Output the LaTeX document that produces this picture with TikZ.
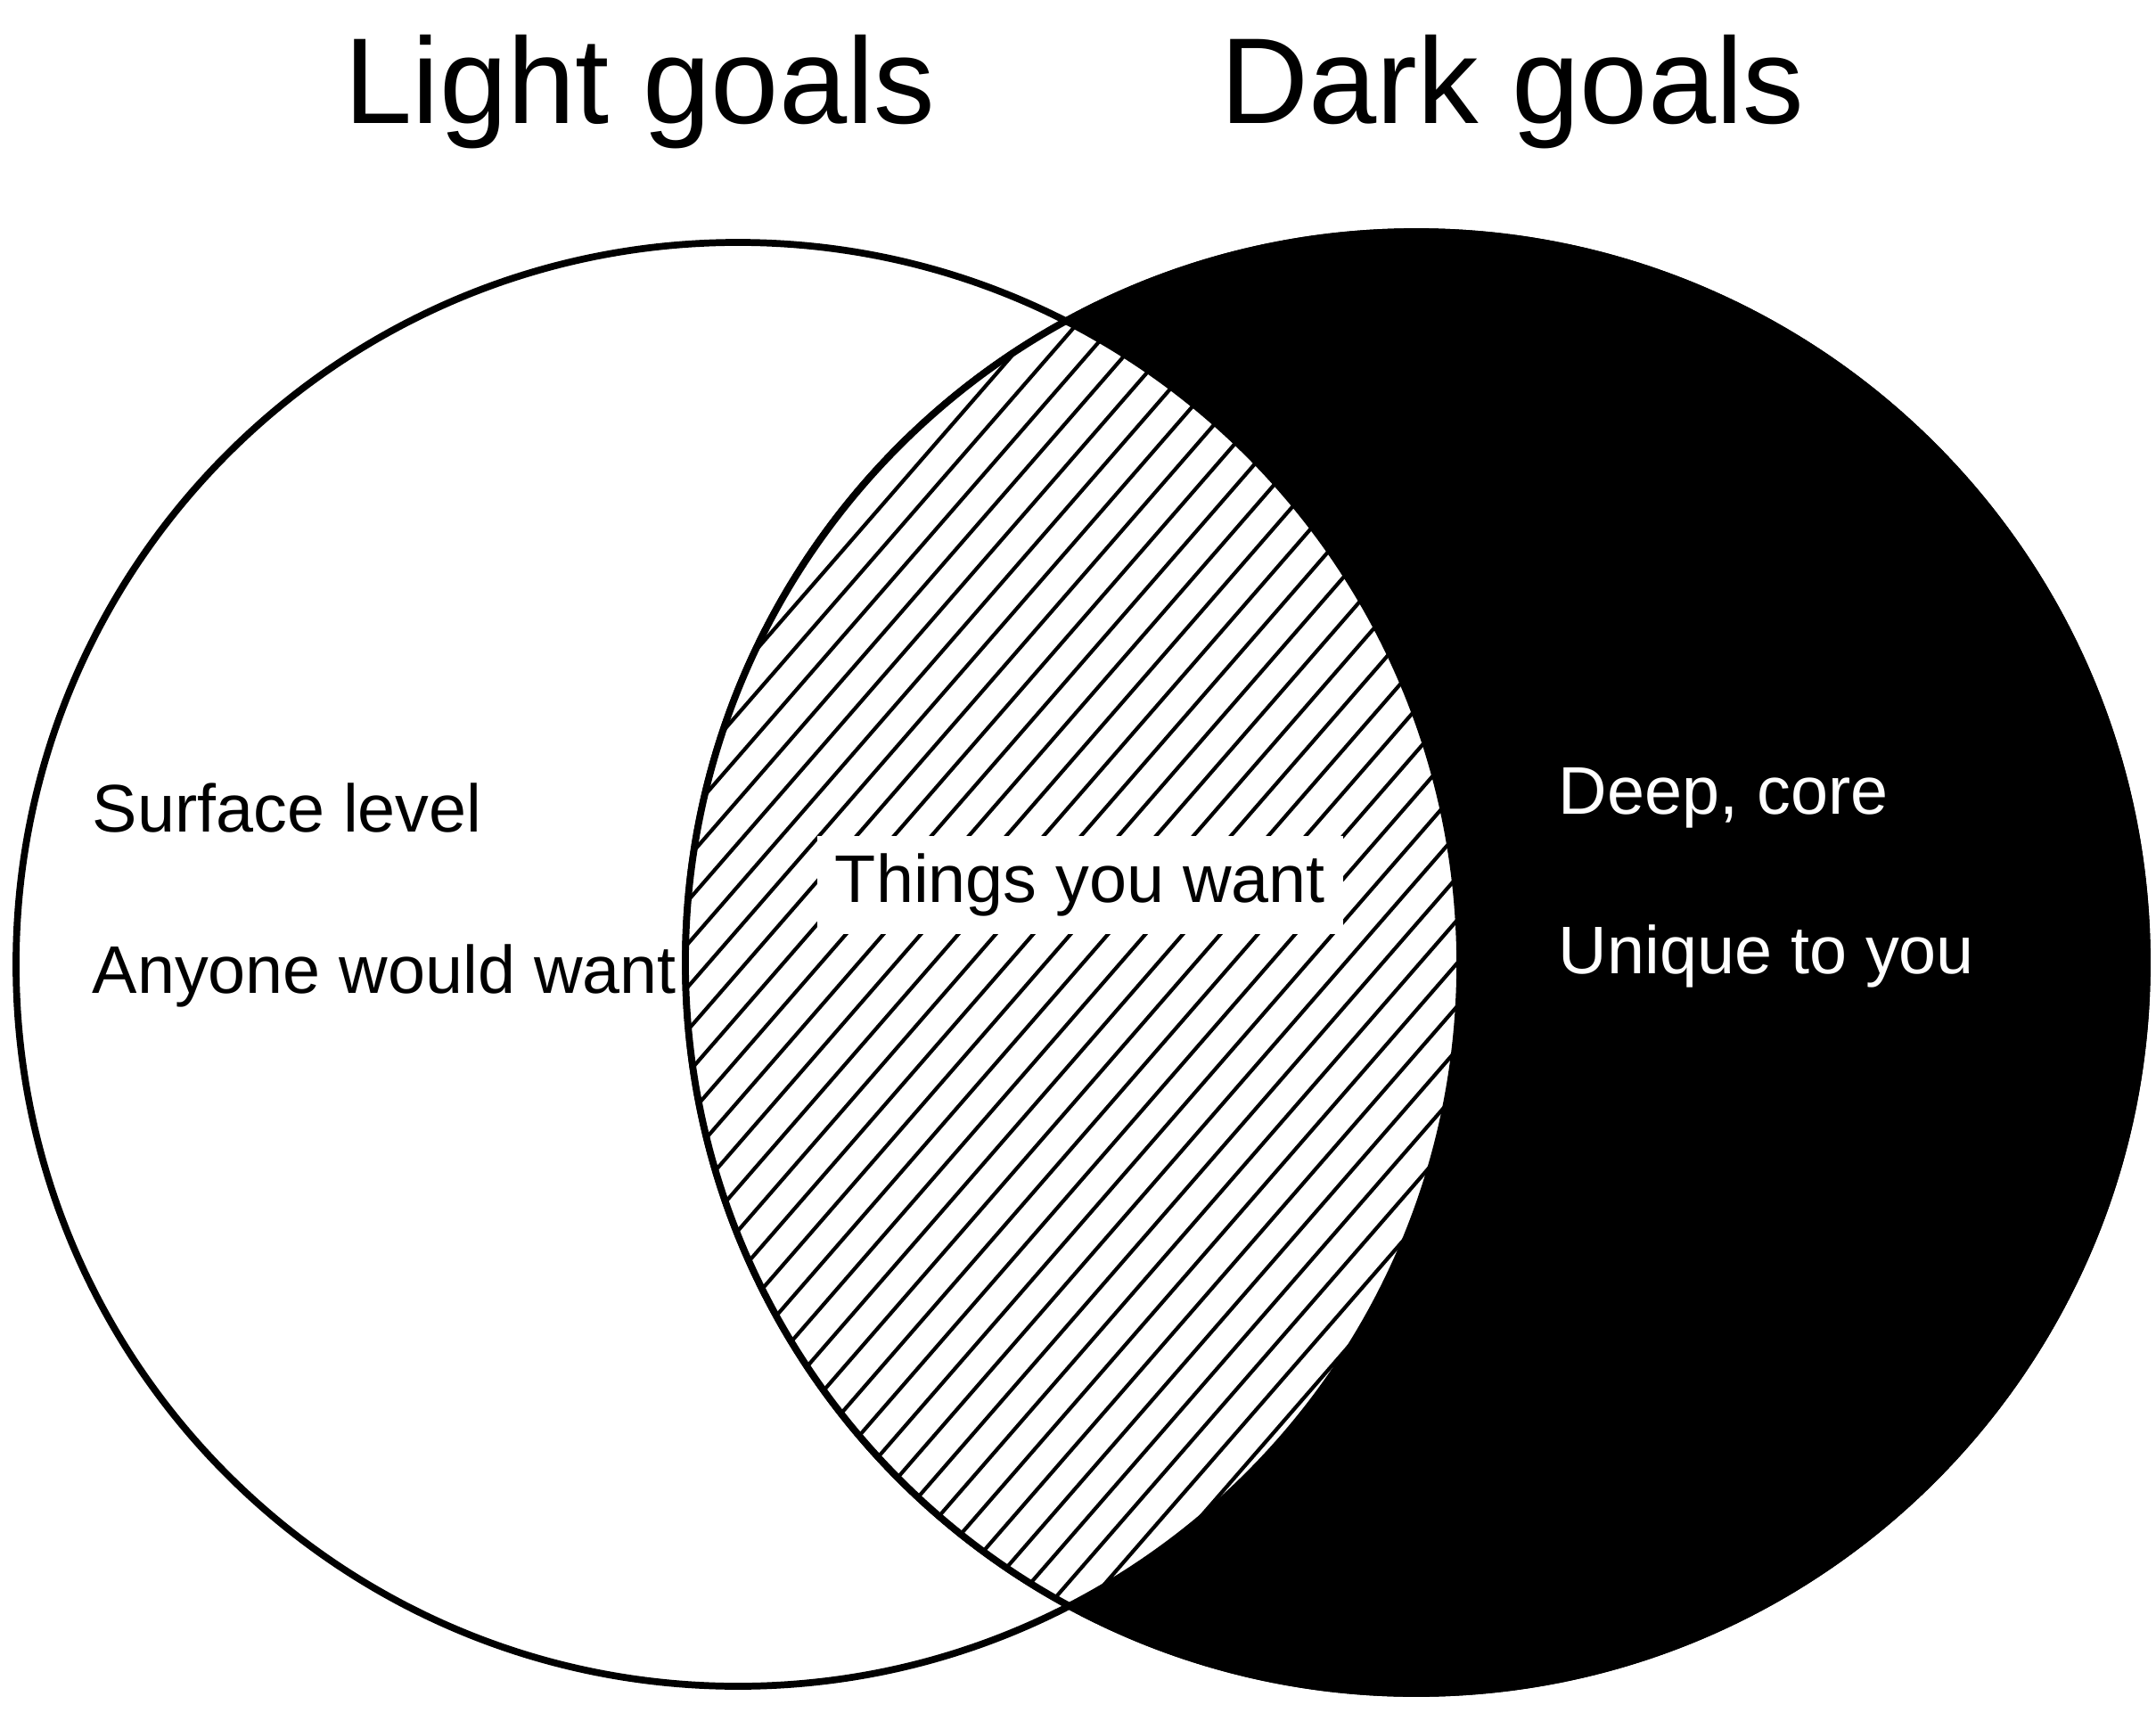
\documentclass[tikz,border=0pt]{standalone}
\usepackage{fontspec}
\setmainfont{Liberation Sans}
\usetikzlibrary{positioning}

\begin{document}
\begin{tikzpicture}[
   ring/.style={circle,draw,line width=2.2pt,inner sep=0pt},
   title/.style={font=\fontsize{39}{44}\selectfont,anchor=base},
   lbl/.style={font=\fontsize{21.5}{26}\selectfont,anchor=base west,inner sep=0pt},
   hatch/.style={line width=1.2pt}]
  \useasboundingbox (0,0) rectangle (24.19,19.21);
  % dark circle, filled
  \node[ring,fill=black,minimum size=16.4cm] (dark) at (15.89,8.41) {};
  % overlap: white with hatching
  \begin{scope}
    \clip (8.28,8.39) circle (8.1);
    \fill[white] (15.89,8.41) circle (8.2);
    \clip (15.89,8.41) circle (8.2);
    \foreach \i in {0,...,56}
      \draw[hatch] ({-5.8+0.42*\i},0.8) -- ++(49:21);
  \end{scope}
  \node[ring,minimum size=16.2cm] (light) at (8.28,8.39) {};
  \draw[line width=2.2pt] (dark.center) circle (8.2);

  \node[title] (lt) at (7.18,17.82) {Light goals};
  \node[title] (dk) at (16.97,17.82) {Dark goals};

  \node[lbl] (surf) at (1.03,9.88) {Surface level};
  \node[lbl] (anyone) at (1.03,8.07) {Anyone would want};
  \node[fill=white,minimum width=5.9cm,minimum height=1.1cm,
        font=\fontsize{21.5}{26}\selectfont] (both) at (12.12,9.28) {Things you want};
  \node[lbl,text=white] (deep) at (17.48,10.08) {Deep, core};
  \node[lbl,text=white] (uniq) at (17.48,8.29) {Unique to you};
\end{tikzpicture}
\end{document}
